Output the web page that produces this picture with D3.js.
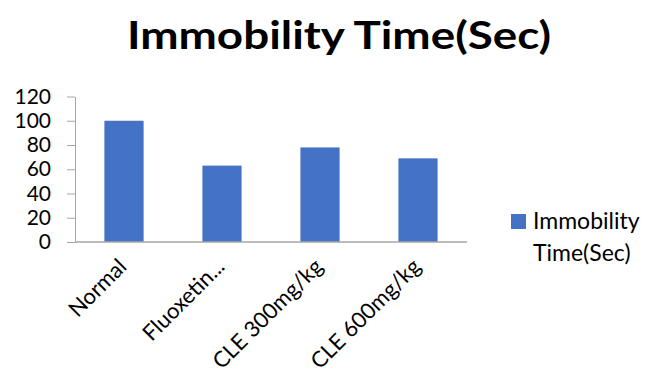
<!DOCTYPE html>
<html>
<head>
<meta charset="utf-8">
<script src="https://cdn.jsdelivr.net/npm/d3@7"></script>
<style>
  html, body { margin: 0; padding: 0; background: #fff; }
  svg { display: block; font-family: Lato, "Open Sans", sans-serif; }
</style>
</head>
<body>
<svg id="chart" width="651" height="381"></svg>
<script>
// Immobility time per treatment group
const groups = ["Normal", "Fluoxetin...", "CLE 300mg/kg", "CLE 600mg/kg"];
const immobility = [100, 63, 78, 69];
const yTicks = [0, 20, 40, 60, 80, 100, 120];
const seriesName = ["Immobility", "Time(Sec)"];
const chartTitle = "Immobility Time(Sec)";

const svg = d3.select("#chart");
const plot = { left: 75, right: 467, top: 96.5, bottom: 242 };

const x = d3.scaleBand().domain(groups).range([plot.left, plot.right]).paddingInner(0.6).paddingOuter(0.3);
const y = d3.scaleLinear().domain([0, 120]).range([plot.bottom, plot.top]);

// Title
svg.append("text")
  .attr("x", 339).attr("y", 49)
  .attr("text-anchor", "middle")
  .attr("font-size", 39).attr("font-weight", "bold")
  .attr("fill", "#000")
  .attr("textLength", 424).attr("lengthAdjust", "spacingAndGlyphs")
  .text(chartTitle);

// Bars
svg.append("g").selectAll("rect").data(groups).join("rect")
  .attr("x", d => x(d))
  .attr("width", x.bandwidth())
  .attr("y", (d, i) => y(immobility[i]))
  .attr("height", (d, i) => y(0) - y(immobility[i]))
  .attr("fill", "#4472C4");

// Y axis
const yAxis = svg.append("g").attr("transform", `translate(${plot.left},0)`)
  .call(d3.axisLeft(y).tickValues(yTicks).tickSize(8).tickPadding(16).tickSizeOuter(0));
yAxis.select(".domain").attr("stroke", "#a6a6a6");
yAxis.selectAll(".tick line").attr("stroke", "#a6a6a6");
yAxis.selectAll(".tick text").attr("font-size", 21).attr("fill", "#000")
  .attr("font-family", "Lato, sans-serif");

// X axis
const xAxis = svg.append("g").attr("transform", `translate(0,${plot.bottom})`)
  .call(d3.axisBottom(x).tickSize(0).tickPadding(0).tickSizeOuter(0));
xAxis.select(".domain").attr("stroke", "#a6a6a6").attr("stroke-width", 1.5)
  .attr("d", `M${plot.left},0H${plot.right}`);
xAxis.selectAll(".tick text")
  .attr("font-size", 22).attr("fill", "#000")
  .attr("font-family", "Lato, sans-serif")
  .attr("text-anchor", "end")
  .attr("y", 0).attr("dy", 0)
  .attr("transform", "translate(4,26) rotate(-45)");

// Legend
const lg = svg.append("g");
lg.append("rect").attr("x", 511).attr("y", 214).attr("width", 15).attr("height", 15).attr("fill", "#4472C4");
lg.selectAll("text").data(seriesName).join("text")
  .attr("x", 533).attr("y", (d, i) => 229 + i * 32)
  .attr("font-size", 23).attr("fill", "#000")
  .text(d => d);
</script>
</body>
</html>
